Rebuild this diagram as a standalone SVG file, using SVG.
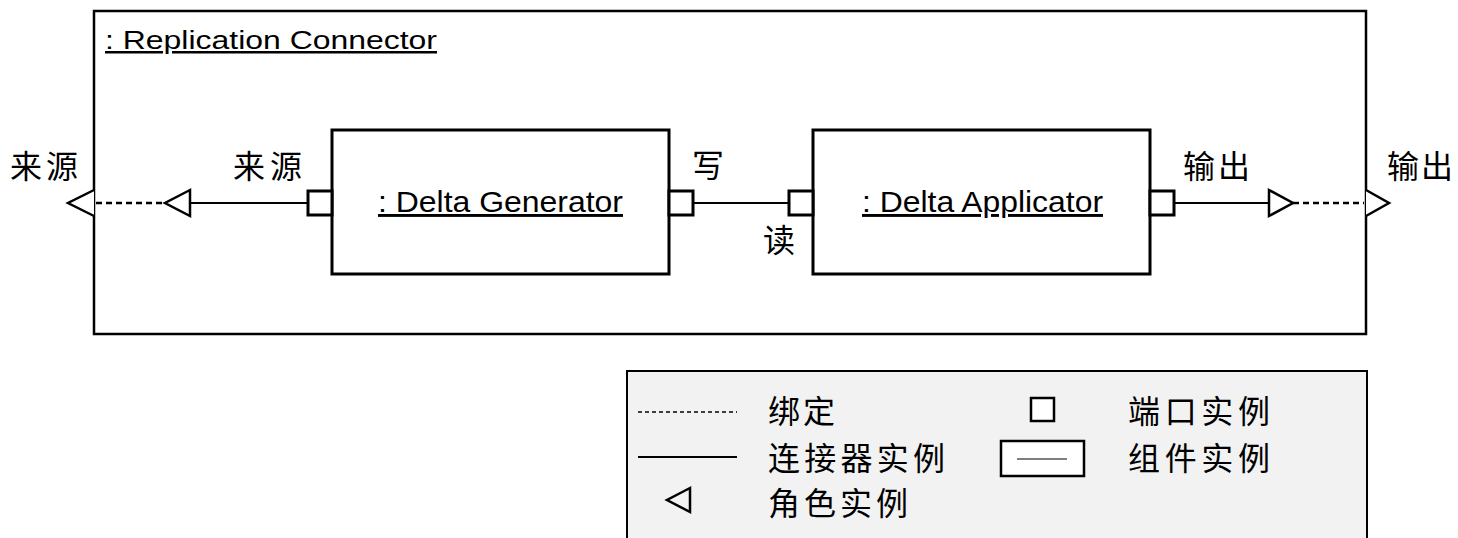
<svg xmlns="http://www.w3.org/2000/svg" width="1458" height="538" viewBox="0 0 1458 538">
<style>
.box{fill:#fff;stroke:#000;stroke-width:3}
.outer{fill:#fff;stroke:#000;stroke-width:2.5}
.port{fill:#fff;stroke:#000;stroke-width:3}
.role{fill:#fff;stroke:#000;stroke-width:2.5;stroke-linejoin:miter}
.conn{stroke:#000;stroke-width:2;fill:none}
.bind{stroke:#000;stroke-width:2.5;fill:none;stroke-dasharray:6 4}
.en{font-family:"Liberation Sans",Arial,sans-serif;fill:#000;text-decoration:underline}
.cn{font-family:"Noto Sans CJK SC","Noto Sans",sans-serif;font-size:32px;fill:#000}
</style>
<rect width="1458" height="538" fill="#fff"/>
<g id="replication-connector">
<rect class="outer" x="94" y="11" width="1272" height="323"/>
<text class="en" x="105" y="49" font-size="25" textLength="332" lengthAdjust="spacingAndGlyphs">: Replication Connector</text>
</g>
<g id="delta-generator">
<rect class="box" x="332" y="130" width="337" height="144"/>
<text class="en" x="378" y="212" font-size="29" textLength="245" lengthAdjust="spacingAndGlyphs">: Delta Generator</text>
</g>
<g id="delta-applicator">
<rect class="box" x="813" y="130" width="337" height="144"/>
<text class="en" x="862" y="212" font-size="29" textLength="241" lengthAdjust="spacingAndGlyphs">: Delta Applicator</text>
</g>
<g id="port-gen-source"><rect class="port" x="308" y="191" width="24" height="24"/></g>
<g id="port-gen-write"><rect class="port" x="669" y="191" width="24" height="24"/></g>
<g id="port-app-read"><rect class="port" x="789" y="191" width="24" height="24"/></g>
<g id="port-app-output"><rect class="port" x="1150" y="191" width="24" height="24"/></g>
<g id="connectors">
<line class="conn" x1="190" y1="203" x2="308" y2="203"/>
<line class="conn" x1="693" y1="203" x2="789" y2="203"/>
<line class="conn" x1="1174" y1="203" x2="1269" y2="203"/>
<line class="bind" x1="96" y1="203" x2="165" y2="203"/>
<line class="bind" x1="1293" y1="203" x2="1364" y2="203"/>
</g>
<g id="role-gen-source">
<polygon class="role" points="190,190 165,203 190,216"/>
<text class="cn" x="233" y="178" textLength="69">来源</text>
</g>
<g id="role-outer-source">
<polyline class="role" points="94,190 68,203 94,216"/>
<text class="cn" x="10" y="178" textLength="68">来源</text>
</g>
<g id="label-write"><text class="cn" x="692" y="177">写</text></g>
<g id="label-read"><text class="cn" x="763" y="252">读</text></g>
<g id="role-app-output">
<polygon class="role" points="1269,190 1293,203 1269,216"/>
<text class="cn" x="1183" y="178" textLength="67">输出</text>
</g>
<g id="role-outer-output">
<polyline class="role" points="1366,190 1389,203 1366,216"/>
<text class="cn" x="1387" y="178" textLength="66">输出</text>
</g>
<g id="legend">
<rect x="627" y="371" width="740" height="180" fill="#f2f2f2" stroke="#000" stroke-width="2"/>
<line x1="638" y1="412" x2="737" y2="412" stroke="#000" stroke-width="1.5" stroke-dasharray="4 3"/>
<text class="cn" x="768" y="423" textLength="67">绑定</text>
<line x1="638" y1="457" x2="737" y2="457" stroke="#000" stroke-width="2"/>
<text class="cn" x="768" y="470" textLength="177">连接器实例</text>
<polygon points="690,488 667,500 690,512" fill="#f2f2f2" stroke="#000" stroke-width="2.5"/>
<text class="cn" x="768" y="515" textLength="140">角色实例</text>
<rect x="1031" y="398" width="23" height="23" fill="#fff" stroke="#000" stroke-width="2.5"/>
<text class="cn" x="1128" y="423" textLength="142">端口实例</text>
<rect x="1001" y="441" width="83" height="35" fill="#fff" stroke="#000" stroke-width="2.5"/>
<line x1="1017" y1="459" x2="1067" y2="459" stroke="#000" stroke-width="1"/>
<text class="cn" x="1128" y="470" textLength="142">组件实例</text>
</g>
</svg>
